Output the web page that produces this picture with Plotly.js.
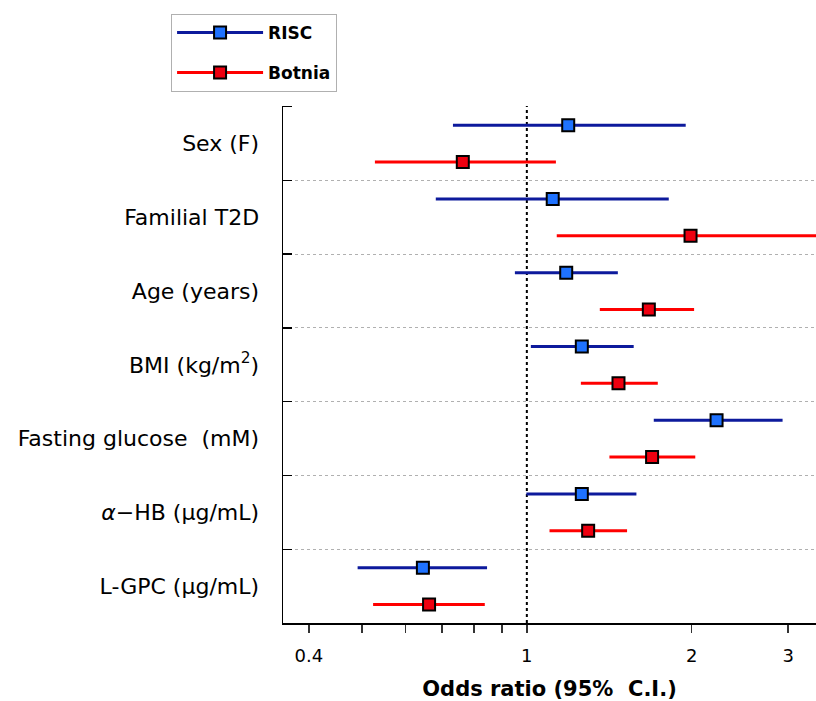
<!DOCTYPE html>
<html>
<head>
<meta charset="utf-8">
<script src="https://cdn.plot.ly/plotly-3.0.1.min.js"></script>
<style>html,body{margin:0;padding:0;background:#fff;}#chart{width:816px;height:701px;}</style>
</head>
<body>
<div id="chart"></div>
<script>
// ---- data ----
const categories = ["Sex (F)", "Familial T2D", "Age (years)", "BMI (kg/m<sup>2</sup>)",
  "Fasting glucose  (mM)", "<i>α</i>−HB (µg/mL)", "L-GPC (µg/mL)"];
const riscOR   = [1.19, 1.115, 1.18, 1.26, 2.22, 1.26, 0.646];
const riscLow  = [0.733, 0.682, 0.951, 1.017, 1.705, 0.998, 0.491];
const riscHigh = [1.95, 1.816, 1.466, 1.567, 2.93, 1.585, 0.846];
const botOR    = [0.764, 1.99, 1.67, 1.47, 1.693, 1.294, 0.663];
const botLow   = [0.528, 1.134, 1.359, 1.255, 1.415, 1.10, 0.524];
const botHigh  = [1.13, 3.8, 2.02, 1.734, 2.03, 1.524, 0.838];
const xTickVals = [0.4, 1, 2, 3];
const xTickText = ["0.4", "1", "2", "3"];
const xMinorVals = [0.5, 0.6, 0.7, 0.8, 0.9];
const refValue = 1;

// ---- positions ----
const n = categories.length;
const centers = categories.map((c, i) => n - i);
const riscY = centers.map(c => c + 0.25);
const botY = centers.map(c => c - 0.25);

function segs(lo, hi, ys) {
  const x = [], y = [];
  lo.forEach((l, i) => { x.push(l, hi[i], null); y.push(ys[i], ys[i], null); });
  return {x, y};
}
function pts(v, ys) {
  const x = [], y = [];
  v.forEach((p, i) => { x.push(p, null); y.push(ys[i], null); });
  return {x, y};
}

const riscCol = '#0d1a9c', riscFill = '#1f72ff';
const botCol = '#ff0000', botFill = '#ee0010';
const FONT = '"DejaVu Sans", Arial, sans-serif';

const rs = segs(riscLow, riscHigh, riscY);
const bs = segs(botLow, botHigh, botY);
const rp = pts(riscOR, riscY);
const bp = pts(botOR, botY);

const traces = [
  {x: rs.x, y: rs.y, mode: 'lines', line: {color: riscCol, width: 3}, showlegend: false, hoverinfo: 'skip'},
  {x: bs.x, y: bs.y, mode: 'lines', line: {color: botCol, width: 3}, showlegend: false, hoverinfo: 'skip'},
  {x: rp.x, y: rp.y, mode: 'lines+markers', name: 'RISC', legendgroup: 'a',
   line: {color: riscCol, width: 3},
   marker: {symbol: 'square', size: 12, color: riscFill, line: {color: '#000', width: 2}}},
  {x: bp.x, y: bp.y, mode: 'lines+markers', name: 'Botnia', legendgroup: 'b',
   line: {color: botCol, width: 3},
   marker: {symbol: 'square', size: 12, color: botFill, line: {color: '#000', width: 2}}}
];

const layout = {
  width: 816, height: 701,
  margin: {l: 283, r: 0, t: 106, b: 78},
  paper_bgcolor: '#fff', plot_bgcolor: '#fff',
  font: {family: FONT, color: '#000'},
  showlegend: true,
  legend: {
    x: -0.21, y: 1.178, xanchor: 'left', yanchor: 'top',
    bordercolor: '#b0b0b0', borderwidth: 1,
    font: {size: 17, color: '#000', weight: 'bold', family: FONT},
    traceorder: 'grouped', tracegroupgap: 15,
    itemwidth: 86
  },
  xaxis: {
    type: 'log',
    range: [Math.log10(0.3588), Math.log10(3.372)],
    tickmode: 'array', tickvals: xTickVals, ticktext: xTickText,
    ticks: 'outside', ticklen: 8, tickwidth: 1.5, tickcolor: '#333',
    ticklabelstandoff: 8,
    minor: {tickmode: 'array', tickvals: xMinorVals, ticks: 'outside', ticklen: 8,
            tickwidth: 1.5, tickcolor: '#333', showgrid: false},
    showline: true, linecolor: '#000', linewidth: 1.5,
    showgrid: false, zeroline: false,
    tickfont: {size: 18, family: FONT},
    title: {text: '<b>Odds ratio (95%  C.I.)</b>', font: {size: 21, family: FONT}, standoff: 16}
  },
  yaxis: {
    range: [0.5, 7.51],
    tickmode: 'array', tickvals: centers, ticktext: categories,
    ticks: '', showgrid: false, zeroline: false,
    showline: true, linecolor: '#000', linewidth: 1.5,
    tickfont: {size: 22, family: FONT},
    ticklabelstandoff: 18,
    minor: {
      tickmode: 'array', tickvals: [1.5, 2.5, 3.5, 4.5, 5.5, 6.5, 7.5],
      ticks: 'inside', ticklen: 9, tickwidth: 1.5, tickcolor: '#000',
      showgrid: true, gridcolor: '#b0b0b0', gridwidth: 1, griddash: 'dot'
    }
  },
  shapes: [
    {type: 'line', xref: 'x', yref: 'paper', x0: refValue, x1: refValue, y0: 0, y1: 1,
     line: {color: '#000', width: 2, dash: 'dot'}, layer: 'below'}
  ]
};

Plotly.newPlot('chart', traces, layout, {displayModeBar: false, staticPlot: true});
</script>
</body>
</html>
